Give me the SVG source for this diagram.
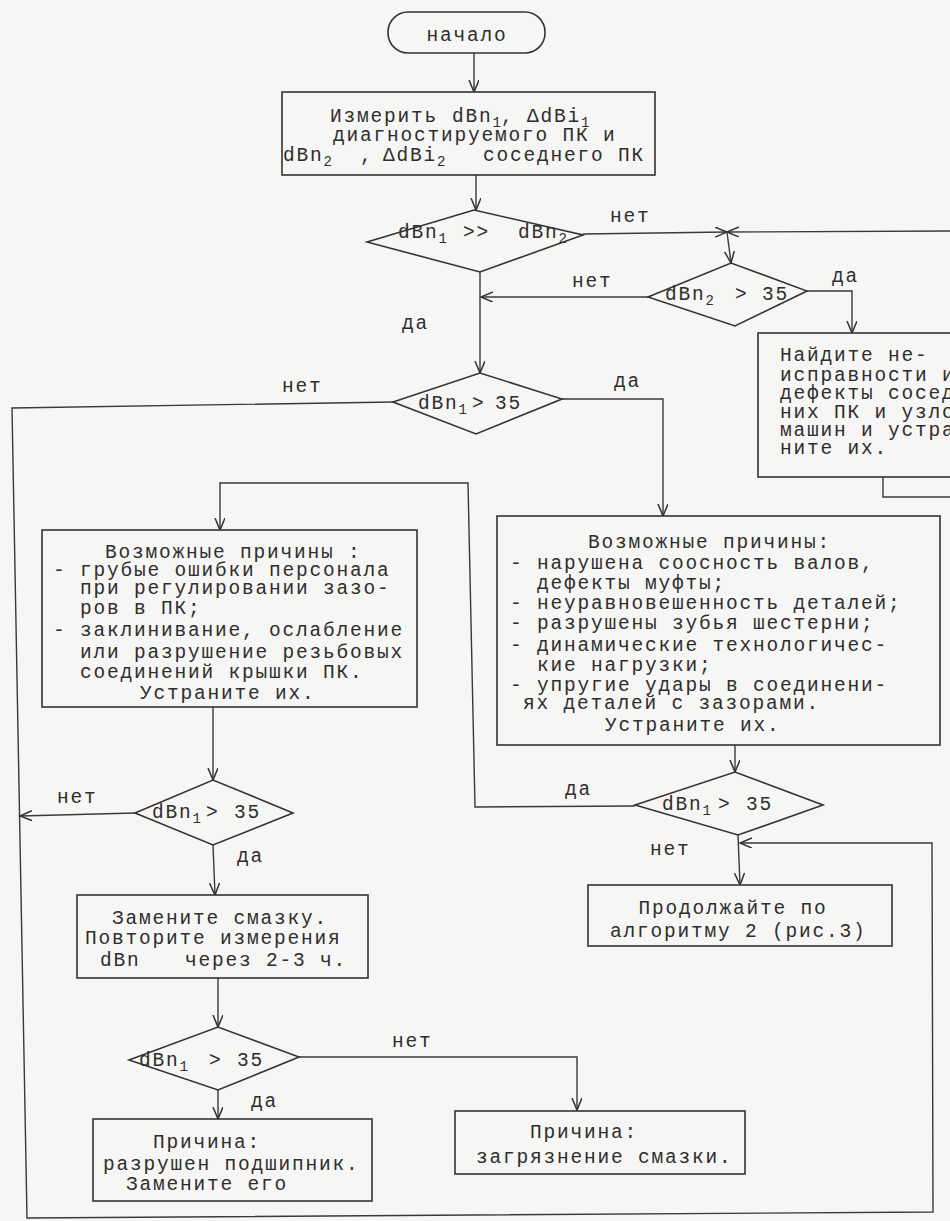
<svg xmlns="http://www.w3.org/2000/svg" width="950" height="1221" viewBox="0 0 950 1221">
<defs>
<style>
.t{font-family:"Liberation Mono","DejaVu Sans Mono",monospace;font-size:19.5px;letter-spacing:1.8px;fill:#2e2e2e}
.s{font-size:14px;letter-spacing:0}
.m{text-anchor:middle}
.sh{fill:#f6f6f4;stroke:#333;stroke-width:1.6}
.ln{fill:none;stroke:#3a3a3a;stroke-width:1.4}
.arr{marker-end:url(#ah)}
</style>
<marker id="ah" markerUnits="userSpaceOnUse" markerWidth="14" markerHeight="12" refX="12" refY="5" orient="auto">
<path d="M0,0 L12,5 L0,10" fill="none" stroke="#333" stroke-width="1.5"/>
</marker>
</defs>
<rect x="0" y="0" width="950" height="1221" fill="#f6f6f4"/>

<g id="connectors">
<path class="ln arr" d="M474,53 L474,92"/>
<path class="ln arr" d="M476,175 L476,210"/>
<path class="ln arr" d="M583,234 L727,232"/>
<path class="ln arr" d="M950,231 L727,232"/>
<path class="ln arr" d="M727,232 L731,263"/>
<path class="ln arr" d="M807,291 L852,291 L852,333"/>
<path class="ln arr" d="M648,297 L481,297"/>
<path class="ln arr" d="M480,272 L480,373"/>
<path class="ln arr" d="M562,399 L663,399 L663,516"/>
<path class="ln arr" d="M393,402 L12,408 L27,1218 L933,1212 L932,843 L740,843"/>
<path class="ln arr" d="M635,806 L475,807 L468,483 L220,483 L220,530"/>
<path class="ln arr" d="M213,707 L213,780"/>
<path class="ln arr" d="M135,813 L20,816"/>
<path class="ln arr" d="M213,845 L215,895"/>
<path class="ln arr" d="M218,978 L218,1027"/>
<path class="ln arr" d="M218,1090 L218,1119"/>
<path class="ln arr" d="M299,1057 L577,1057 L577,1110"/>
<path class="ln arr" d="M735,745 L735,772"/>
<path class="ln arr" d="M738,835 L740,885"/>
<path class="ln" d="M883,477 L883,497 L950,497"/>
</g>

<g id="labels">
<text class="t" x="610" y="222">нет</text>
<text class="t" x="572" y="287">нет</text>
<text class="t" x="832" y="282">да</text>
<text class="t" x="402" y="329">да</text>
<text class="t" x="282" y="392">нет</text>
<text class="t" x="614" y="387">да</text>
<text class="t" x="57" y="803">нет</text>
<text class="t" x="237" y="862">да</text>
<text class="t" x="565" y="795">да</text>
<text class="t" x="650" y="855">нет</text>
<text class="t" x="392" y="1047">нет</text>
<text class="t" x="251" y="1107">да</text>
</g>

<g id="start">
<rect class="sh" x="388" y="12" width="157" height="41" rx="20" ry="20"/>
<text class="t m" x="467" y="41">начало</text>
</g>

<g id="measure">
<rect class="sh" x="282" y="92" width="373" height="83"/>
<text class="t" y="122"><tspan x="330">Измерить</tspan><tspan x="452">dBn</tspan><tspan class="s" dy="5">1</tspan><tspan dy="-5">,</tspan><tspan x="527">ΔdBi</tspan><tspan class="s" dy="5">1</tspan></text>
<text class="t" x="333" y="141">диагностируемого ПК и</text>
<text class="t" y="161"><tspan x="283">dBn</tspan><tspan class="s" dy="5">2</tspan><tspan dy="-5" x="360">,</tspan><tspan x="383">ΔdBi</tspan><tspan class="s" dy="5">2</tspan><tspan dy="-5" x="483">соседнего ПК</tspan></text>
</g>

<g id="d1">
<polygon class="sh" points="367,242 474,210 583,235 480,272"/>
<text class="t" y="238"><tspan x="398">dBn</tspan><tspan class="s" dy="5">1</tspan><tspan dy="-5" x="463">&gt;&gt;</tspan><tspan x="518">dBn</tspan><tspan class="s" dy="5">2</tspan></text>
</g>

<g id="d2">
<polygon class="sh" points="648,297 731,263 807,291 735,326"/>
<text class="t" y="300"><tspan x="665">dBn</tspan><tspan class="s" dy="5">2</tspan><tspan dy="-5" x="735">&gt;</tspan><tspan x="762">35</tspan></text>
</g>

<g id="find">
<rect class="sh" x="758" y="333" width="240" height="144"/>
<text class="t" x="780" y="361">Найдите не-</text>
<text class="t" x="780" y="381">исправности и</text>
<text class="t" x="780" y="399">дефекты сосед</text>
<text class="t" x="780" y="418">них ПК и узло</text>
<text class="t" x="780" y="436">машин и устра</text>
<text class="t" x="780" y="454">ните их.</text>
</g>

<g id="d3">
<polygon class="sh" points="393,402 480,373 562,399 476,434"/>
<text class="t" y="409"><tspan x="418">dBn</tspan><tspan class="s" dy="5">1</tspan><tspan dy="-5" x="472">&gt;</tspan><tspan x="495">35</tspan></text>
</g>

<g id="causesLeft">
<rect class="sh" x="42" y="530" width="375" height="177"/>
<text class="t" x="105" y="558">Возможные причины :</text>
<text class="t" x="53" y="576">- грубые ошибки персонала</text>
<text class="t" x="80" y="594">при регулировании зазо-</text>
<text class="t" x="80" y="614">ров в ПК;</text>
<text class="t" x="53" y="636">- заклинивание, ослабление</text>
<text class="t" x="80" y="658">или разрушение резьбовых</text>
<text class="t" x="80" y="678">соединений крышки ПК.</text>
<text class="t" x="140" y="699">Устраните их.</text>
</g>

<g id="causesRight">
<rect class="sh" x="497" y="516" width="443" height="229"/>
<text class="t" x="588" y="548">Возможные причины:</text>
<text class="t" x="510" y="569">- нарушена соосность валов,</text>
<text class="t" x="537" y="589">дефекты муфты;</text>
<text class="t" x="510" y="609">- неуравновешенность деталей;</text>
<text class="t" x="510" y="629">- разрушены зубья шестерни;</text>
<text class="t" x="510" y="651">- динамические технологичес-</text>
<text class="t" x="537" y="671">кие нагрузки;</text>
<text class="t" x="510" y="691">- упругие удары в соединени-</text>
<text class="t" x="523" y="709">ях деталей с зазорами.</text>
<text class="t" x="605" y="731">Устраните их.</text>
</g>

<g id="d4">
<polygon class="sh" points="135,813 213,780 293,813 213,845"/>
<text class="t" y="818"><tspan x="152">dBn</tspan><tspan class="s" dy="5">1</tspan><tspan dy="-5" x="206">&gt;</tspan><tspan x="234">35</tspan></text>
</g>

<g id="d5">
<polygon class="sh" points="635,805 735,772 823,805 738,835"/>
<text class="t" y="810"><tspan x="662">dBn</tspan><tspan class="s" dy="5">1</tspan><tspan dy="-5" x="718">&gt;</tspan><tspan x="746">35</tspan></text>
</g>

<g id="continue">
<rect class="sh" x="588" y="885" width="304" height="61"/>
<text class="t m" x="733" y="914">Продолжайте по</text>
<text class="t" x="610" y="937">алгоритму 2 (рис.3)</text>
</g>

<g id="replace">
<rect class="sh" x="77" y="895" width="291" height="83"/>
<text class="t m" x="220" y="924">Замените смазку.</text>
<text class="t" x="85" y="944">Повторите измерения</text>
<text class="t" y="966"><tspan x="100">dBn</tspan><tspan x="185">через 2-3 ч.</tspan></text>
</g>

<g id="d6">
<polygon class="sh" points="129,1060 218,1027 299,1057 218,1090"/>
<text class="t" y="1066"><tspan x="139">dBn</tspan><tspan class="s" dy="5">1</tspan><tspan dy="-5" x="209">&gt;</tspan><tspan x="237">35</tspan></text>
</g>

<g id="bearing">
<rect class="sh" x="93" y="1119" width="279" height="82"/>
<text class="t m" x="207" y="1148">Причина:</text>
<text class="t" x="103" y="1170">разрушен подшипник.</text>
<text class="t m" x="207" y="1190">Замените его</text>
</g>

<g id="dirt">
<rect class="sh" x="455" y="1111" width="290" height="63"/>
<text class="t m" x="584" y="1138">Причина:</text>
<text class="t" x="476" y="1163">загрязнение смазки.</text>
</g>
</svg>
